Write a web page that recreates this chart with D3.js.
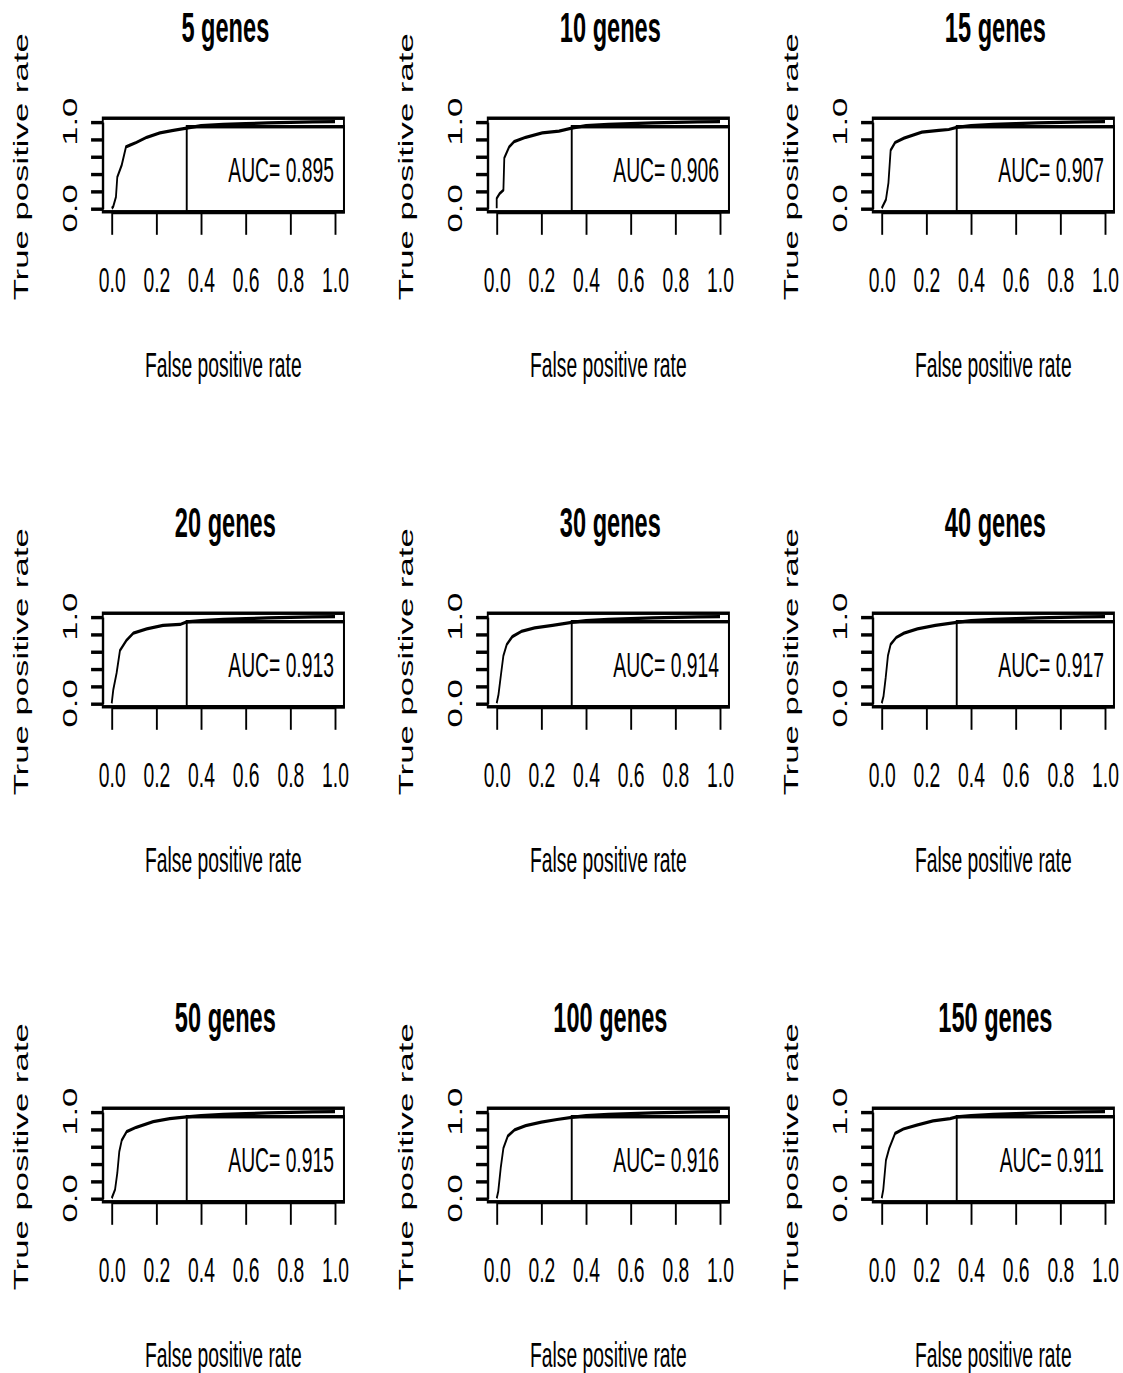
<!DOCTYPE html>
<html>
<head>
<meta charset="utf-8">
<title>ROC curves by gene count</title>
<script src="https://cdn.jsdelivr.net/npm/d3@7"></script>
<style>
body { margin: 0; background: #fff; }
svg { display: block; }
text { font-family: "Liberation Sans", Arial, Helvetica, sans-serif; fill: #000; }
</style>
</head>
<body>
<div id="chart"></div>
<script>
// panel titles and AUC values
var titles = ["5 genes", "10 genes", "15 genes",
              "20 genes", "30 genes", "40 genes",
              "50 genes", "100 genes", "150 genes"];
var aucs = [0.895, 0.906, 0.907, 0.913, 0.914, 0.917, 0.915, 0.916, 0.911];

// ROC points [fpr, tpr]
var roc5   = [[0,0],[0.007,0.02],[0.019,0.13],[0.025,0.36],[0.045,0.5],[0.064,0.71],[0.082,0.73],[0.11,0.76],[0.157,0.82],[0.216,0.87],[0.276,0.9],[0.336,0.925]];
var roc10  = [[0,0],[0,0.115],[0.013,0.17],[0.03,0.21],[0.034,0.58],[0.056,0.71],[0.078,0.77],[0.13,0.82],[0.204,0.87],[0.279,0.89],[0.336,0.925]];
var roc15  = [[0,0],[0.019,0.1],[0.03,0.29],[0.04,0.67],[0.06,0.76],[0.1,0.81],[0.18,0.88],[0.256,0.9],[0.3,0.91],[0.336,0.935]];
var roc20  = [[0,0],[0.007,0.155],[0.022,0.35],[0.037,0.61],[0.067,0.73],[0.097,0.81],[0.157,0.86],[0.23,0.9],[0.306,0.91],[0.336,0.94]];
var roc30  = [[0,0],[0.008,0.1],[0.02,0.35],[0.03,0.55],[0.045,0.68],[0.07,0.77],[0.11,0.83],[0.17,0.87],[0.25,0.9],[0.336,0.935]];
var roc40  = [[0,0],[0.008,0.08],[0.018,0.3],[0.028,0.55],[0.04,0.68],[0.065,0.76],[0.1,0.81],[0.16,0.86],[0.24,0.9],[0.336,0.935]];
var roc50  = [[0,0],[0.015,0.1],[0.025,0.29],[0.034,0.54],[0.045,0.67],[0.067,0.77],[0.11,0.82],[0.186,0.885],[0.26,0.92],[0.336,0.94]];
var roc100 = [[0,0],[0.007,0.08],[0.018,0.35],[0.03,0.58],[0.05,0.72],[0.08,0.79],[0.13,0.84],[0.2,0.88],[0.27,0.91],[0.336,0.935]];
var roc150 = [[0,0],[0.007,0.1],[0.019,0.44],[0.034,0.58],[0.06,0.75],[0.097,0.8],[0.157,0.845],[0.23,0.895],[0.306,0.92],[0.336,0.94]];
// tail along the top, same shape in every panel
var rocTail = [[0.4,0.955],[0.5,0.968],[0.6,0.978],[0.7,0.986],[0.8,0.992],[0.9,0.997],[1,1]];
var rocs = [roc5, roc10, roc15, roc20, roc30, roc40, roc50, roc100, roc150];

var xTicks = [0, 0.2, 0.4, 0.6, 0.8, 1.0];
var yTicks = [0, 0.2, 0.4, 0.6, 0.8, 1.0];
var yTickLabels = [0, 1.0];   // R drops the middle ones
var legendLeft = 0.336, legendTop = 0.942;

// the whole figure is stretched vertically
var K = 1.8;
var W = 1123, H = 1373;
var plotW = 223.3,
    plotH = 86.6 / K,
    colStep = 385,
    rowStep = 495 / K,
    sw = 1.9;

var svg = d3.select('#chart').append('svg')
    .attr('width', W)
    .attr('height', H);
svg.append('rect').attr('width', W).attr('height', H).attr('fill', '#fff');
var root = svg.append('g').attr('transform', 'scale(1,' + K + ')');

titles.forEach(function(title, i) {
    var r = Math.floor(i / 3), c = i % 3;
    var x0 = 111.7 + colStep * c,
        y0 = 208.3 / K + rowStep * r;

    var x = d3.scaleLinear().domain([0, 1]).range([x0, x0 + plotW]);
    var y = d3.scaleLinear().domain([0, 1]).range([y0, y0 - plotH]);

    var g = root.append('g').attr('class', 'panel');

    // x axis
    var xa = g.append('g')
        .attr('transform', 'translate(0,' + y(-0.04) + ')')
        .call(d3.axisBottom(x).tickValues(xTicks).tickSize(12.8).tickSizeOuter(0)
            .tickFormat(d3.format('.1f')));
    xa.selectAll('text')
        .attr('y', 44.5).attr('dy', null)
        .attr('font-size', 19.3);

    // y axis
    var ya = g.append('g')
        .attr('transform', 'translate(' + x(-0.04) + ',0)')
        .call(d3.axisLeft(y).tickValues(yTicks).tickSize(11.7).tickSizeOuter(0).tickFormat(''));

    g.selectAll('.domain, .tick line')
        .attr('stroke', '#000')
        .attr('stroke-width', sw);
    g.selectAll('.tick text').attr('fill', '#000').attr('font-family', null);

    g.selectAll('.ylab-tick')
        .data(yTickLabels)
      .enter().append('text')
        .attr('class', 'ylab-tick')
        .attr('transform', function(d) { return 'translate(' + (x0 - 35) + ',' + y(d) + ') rotate(-90)'; })
        .attr('text-anchor', 'middle')
        .attr('font-size', 19.3)
        .text(function(d) { return d3.format('.1f')(d); });

    // plot box
    g.append('rect')
        .attr('x', x(-0.04))
        .attr('y', y(1.04))
        .attr('width', x(1.04) - x(-0.04))
        .attr('height', y(-0.04) - y(1.04))
        .attr('fill', 'none')
        .attr('stroke', '#000')
        .attr('stroke-width', sw);

    // ROC curve
    var line = d3.line()
        .x(function(d) { return x(d[0]); })
        .y(function(d) { return y(d[1]); });
    g.append('path')
        .datum(rocs[i].concat(rocTail))
        .attr('d', line)
        .attr('fill', 'none')
        .attr('stroke', '#000')
        .attr('stroke-width', 1.8)
        .attr('stroke-linejoin', 'round');

    // legend box + AUC text
    g.append('rect')
        .attr('x', x(legendLeft))
        .attr('y', y(legendTop))
        .attr('width', x(1.04) - x(legendLeft))
        .attr('height', y(-0.04) - y(legendTop))
        .attr('fill', 'none')
        .attr('stroke', '#000')
        .attr('stroke-width', sw);
    g.append('text')
        .attr('x', x(1.04) - 10)
        .attr('y', y(0) - 14.8)
        .attr('text-anchor', 'end')
        .attr('font-size', 19.3)
        .text('AUC= ' + d3.format('.3f')(aucs[i]));

    // titles and axis labels
    g.append('text')
        .attr('x', (x(-0.04) + x(1.04)) / 2 + 2)
        .attr('y', y(1) - 44.4)
        .attr('text-anchor', 'middle')
        .attr('font-size', 23.6)
        .attr('font-weight', 'bold')
        .text(title);
    g.append('text')
        .attr('x', (x(-0.04) + x(1.04)) / 2)
        .attr('y', y(0) + 93.6)
        .attr('text-anchor', 'middle')
        .attr('font-size', 19.3)
        .text('False positive rate');
    g.append('text')
        .attr('transform', 'translate(' + (x0 - 83.7) + ',' + (y(0.5) + 1) + ') rotate(-90)')
        .attr('text-anchor', 'middle')
        .attr('font-size', 19.3)
        .text('True positive rate');
});
</script>
</body>
</html>
